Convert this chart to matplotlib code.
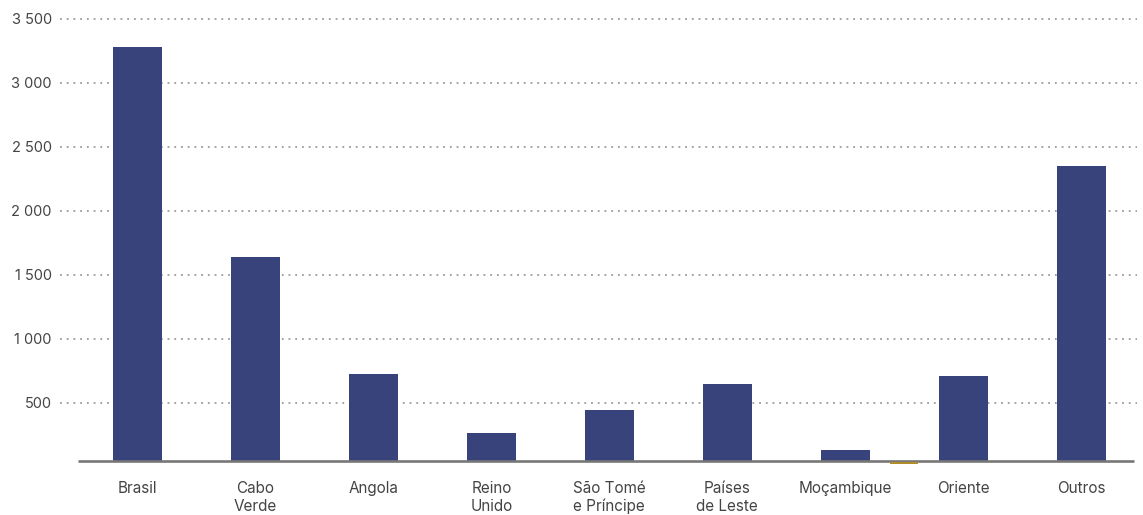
import matplotlib
matplotlib.use("Agg")
import matplotlib.pyplot as plt

categories = ["Brasil", "Cabo\nVerde", "Angola", "Reino\nUnido", "São Tomé\ne Príncipe",
              "Países\nde Leste", "Moçambique", "Oriente", "Outros"]
values = [3281, 1641, 727, 266, 445, 648, 133, 711, 2352]
extra_value = [40]          # tiny gold mark between Moçambique and Oriente
extra_pos = [6.5]
yticks = [500, 1000, 1500, 2000, 2500, 3000, 3500]
ytick_labels = ["500", "1 000", "1 500", "2 000", "2 500", "3 000", "3 500"]
baseline = 40

plt.rcParams['font.family'] = ['Inter', 'DejaVu Sans']

W, H = 1143, 515
fig = plt.figure(figsize=(W / 100, H / 100), dpi=100)
left_px, right_px, top_px, bot_px = 60, 1137, 10, 463.5
ax = fig.add_axes([left_px / W, 1 - bot_px / H, (right_px - left_px) / W, (bot_px - top_px) / H])

x = list(range(len(categories)))
ax.bar(x, [v - baseline for v in values], bottom=baseline, width=0.415, color="#37437a", zorder=2)
ax.bar(extra_pos, extra_value, width=0.235, color="#b08d2a", zorder=4)

ax.set_xlim(-0.657, 8.474)
ax.set_ylim(27, 3570)

# baseline axis line
ax.plot([-0.505, 8.45], [50, 50], color="#777777", lw=1.9, zorder=3, solid_capstyle="butt")

ax.set_yticks(yticks)
ax.set_yticklabels(ytick_labels)
ax.grid(axis="y", color="#8a8a8a", linestyle=(0, (1.2, 3.2)), linewidth=1.1, zorder=1)
ax.tick_params(axis="y", length=0, pad=6, labelsize=10.5, labelcolor="#444444")

ax.set_xticks(x)
ax.set_xticklabels(categories, linespacing=1.25)
ax.tick_params(axis="x", length=0, pad=12.5, labelsize=11, labelcolor="#444444")

for s in ax.spines.values():
    s.set_visible(False)

fig.savefig("out.png", dpi=100)
